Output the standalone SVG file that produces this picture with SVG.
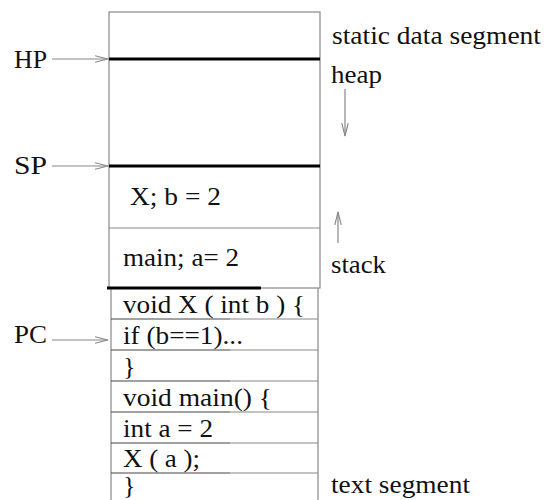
<svg xmlns="http://www.w3.org/2000/svg" width="547" height="500" viewBox="0 0 547 500">
<style>
text{font-family:"Liberation Serif","Times New Roman",serif;font-size:26px;fill:#111}
.box{fill:none;stroke:#888;stroke-width:1.2}
.thin{stroke:#888;stroke-width:1.2}
.dark{stroke:#444;stroke-width:1.2}
.thick{stroke:#000;stroke-width:3}
.arr{stroke:#888;stroke-width:1.2;fill:none}
</style>
<defs>
<marker id="ah" markerWidth="14" markerHeight="8" refX="13" refY="4" orient="auto" markerUnits="userSpaceOnUse">
<path d="M0,0.8 L13,4 L0,7.2" fill="none" stroke="#888" stroke-width="1.1"/>
</marker>
</defs>
<g id="memory">
<rect class="box" x="109" y="12" width="211" height="276"/>
<line class="thick" x1="109" y1="59" x2="320" y2="59"/>
<line class="thick" x1="109" y1="166" x2="320" y2="166"/>
<line class="thin" x1="109" y1="228" x2="320" y2="228"/>
</g>
<g id="frame-x"><text x="130" y="205" textLength="91" lengthAdjust="spacingAndGlyphs">X; b = 2</text></g>
<g id="frame-main"><text x="123" y="266" textLength="116" lengthAdjust="spacingAndGlyphs">main; a= 2</text></g>
<g id="text-segment">
<line class="thin" x1="111" y1="288" x2="111" y2="500"/>
<line class="thin" x1="318" y1="288" x2="318" y2="500"/>
<line class="thick" x1="107" y1="288" x2="261" y2="288"/>
<line class="dark" x1="111" y1="319" x2="230" y2="319"/><line class="thin" x1="230" y1="319" x2="318" y2="319"/>
<line class="dark" x1="111" y1="350" x2="230" y2="350"/><line class="thin" x1="230" y1="350" x2="318" y2="350"/>
<line class="dark" x1="111" y1="381" x2="230" y2="381"/><line class="thin" x1="230" y1="381" x2="318" y2="381"/>
<line class="dark" x1="111" y1="412" x2="230" y2="412"/><line class="thin" x1="230" y1="412" x2="318" y2="412"/>
<line class="dark" x1="111" y1="443" x2="230" y2="443"/><line class="thin" x1="230" y1="443" x2="318" y2="443"/>
<line class="dark" x1="111" y1="473" x2="230" y2="473"/><line class="thin" x1="230" y1="473" x2="318" y2="473"/>
<text x="123" y="313" textLength="182" lengthAdjust="spacingAndGlyphs">void X ( int b ) {</text>
<text x="123" y="344" textLength="120" lengthAdjust="spacingAndGlyphs">if (b==1)...</text>
<text x="123" y="375">}</text>
<text x="123" y="406" textLength="149" lengthAdjust="spacingAndGlyphs">void main() {</text>
<text x="123" y="437" textLength="90" lengthAdjust="spacingAndGlyphs">int a = 2</text>
<text x="123" y="467" textLength="77" lengthAdjust="spacingAndGlyphs">X ( a );</text>
<text x="123" y="494">}</text>
</g>
<g id="labels">
<text x="332" y="44" textLength="209" lengthAdjust="spacingAndGlyphs">static data segment</text>
<text x="331" y="83" textLength="51" lengthAdjust="spacingAndGlyphs">heap</text>
<text x="331" y="273" textLength="55" lengthAdjust="spacingAndGlyphs">stack</text>
<text x="331" y="493" textLength="139" lengthAdjust="spacingAndGlyphs">text segment</text>
<text x="14" y="68" textLength="33" lengthAdjust="spacingAndGlyphs">HP</text>
<text x="14" y="174" textLength="33" lengthAdjust="spacingAndGlyphs">SP</text>
<text x="14" y="343" textLength="33" lengthAdjust="spacingAndGlyphs">PC</text>
</g>
<g id="connectors">
<line class="arr" x1="52" y1="59" x2="108" y2="59" marker-end="url(#ah)"/>
<line class="arr" x1="52" y1="166" x2="108" y2="166" marker-end="url(#ah)"/>
<line class="arr" x1="52" y1="340" x2="108" y2="340" marker-end="url(#ah)"/>
<line class="arr" x1="345" y1="89" x2="345" y2="136" marker-end="url(#ah)"/>
<line class="arr" x1="338" y1="243" x2="338" y2="212" marker-end="url(#ah)"/>
</g>
</svg>
